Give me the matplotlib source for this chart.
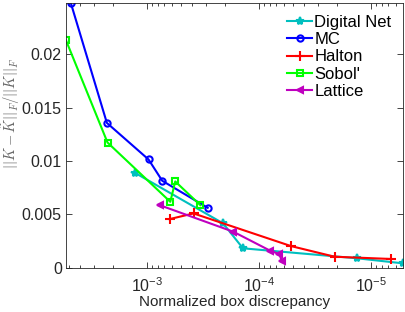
import matplotlib
matplotlib.use("Agg")
import matplotlib.pyplot as plt
from matplotlib.ticker import LogLocator, NullFormatter, FixedLocator

plt.rcParams['font.family'] = ['Liberation Sans', 'DejaVu Sans']
plt.rcParams['mathtext.fontset'] = 'cm'

series_names = ["Digital Net", "MC", "Halton", "Sobol'", "Lattice"]

dn_x = [1.29e-3, 2.09e-4, 1.39e-4, 1.32e-5, 5.18e-6]
dn_y = [0.0089, 0.00414, 0.0018, 0.00086, 0.00039]

mc_x = [4.78e-3, 2.28e-3, 9.68e-4, 7.30e-4, 2.87e-4]
mc_y = [0.02479, 0.01356, 0.01013, 0.00813, 0.0056]

ha_x = [6.28e-4, 3.84e-4, 5.18e-5, 2.11e-5, 6.62e-6]
ha_y = [0.00454, 0.00507, 0.00201, 0.00101, 0.0008]

so_x = [5.28e-3, 2.25e-3, 6.19e-4, 5.59e-4, 3.34e-4]
so_y = [0.0213, 0.01172, 0.00616, 0.00807, 0.00585]

la_x = [7.72e-4, 1.69e-4, 7.92e-5, 6.59e-5, 6.24e-5]
la_y = [0.00585, 0.00335, 0.00157, 0.00126, 0.00061]

ytick_vals = [0, 0.005, 0.01, 0.015, 0.02]
ytick_labels = ["0", "0.005", "0.01", "0.015", "0.02"]
xtick_vals = [1e-3, 1e-4, 1e-5]
xtick_labels = [r"$\mathregular{10^{-3}}$", r"$\mathregular{10^{-4}}$",
                r"$\mathregular{10^{-5}}$"]

fig = plt.figure(figsize=(4.05, 3.12), dpi=100)
ax = fig.add_axes([0.163, 0.1426, 0.832, 0.8474])

styles = [
    (dn_x, dn_y, 'c', '*', 6, 'c'),
    (mc_x, mc_y, 'b', 'o', 4.5, 'none'),
    (ha_x, ha_y, 'r', '+', 7, 'r'),
    (so_x, so_y, (0, 1, 0), 's', 4, 'none'),
    (la_x, la_y, 'm', '<', 5, 'm'),
]
for (xs, ys, c, m, ms, fc), name in zip(styles, series_names):
    ax.plot(xs, ys, color=c, marker=m, markersize=ms, lw=1.5, mew=1.5,
            mfc=fc, label=name)

ax.set_xscale('log')
allx = dn_x + mc_x + ha_x + so_x + la_x
ally = dn_y + mc_y + ha_y + so_y + la_y
ax.set_xlim(max(allx), min(allx))
ax.set_ylim(0, max(ally))

ax.xaxis.set_major_locator(FixedLocator(xtick_vals))
ax.xaxis.set_minor_locator(LogLocator(base=10, subs=range(2, 10), numticks=20))
ax.xaxis.set_minor_formatter(NullFormatter())
ax.set_xticklabels(xtick_labels)
ax.set_yticks(ytick_vals)
ax.set_yticklabels(ytick_labels)

tc = (0.15, 0.15, 0.15)
ax.tick_params(which='both', direction='in', top=True, right=True,
               colors=tc, labelsize=11.5)
ax.tick_params(which='major', length=4, width=0.6)
ax.tick_params(which='minor', length=2.5, width=0.6)
ax.tick_params(axis='x', which='major', pad=6)
ax.tick_params(axis='y', which='major', pad=3)
for s in ax.spines.values():
    s.set_color(tc)
    s.set_linewidth(0.6)

ax.set_xlabel("Normalized box discrepancy", fontsize=11, color=tc)
ax.xaxis.set_label_coords(0.5, -0.105)
ax.set_ylabel(r"$||K-\tilde{K}||_F/||K||_F$", fontsize=10.5,
              color=(0.4, 0.4, 0.4))
ax.yaxis.set_label_coords(-0.132, 0.582)

leg = ax.legend(loc='upper right', bbox_to_anchor=(1.0, 1.0), frameon=False,
                fontsize=12, handlelength=1.5, handletextpad=0.12,
                labelspacing=0.14, borderaxespad=0.3)
for t in leg.get_texts():
    t.set_color('black')

fig.savefig("out.png", dpi=100)
